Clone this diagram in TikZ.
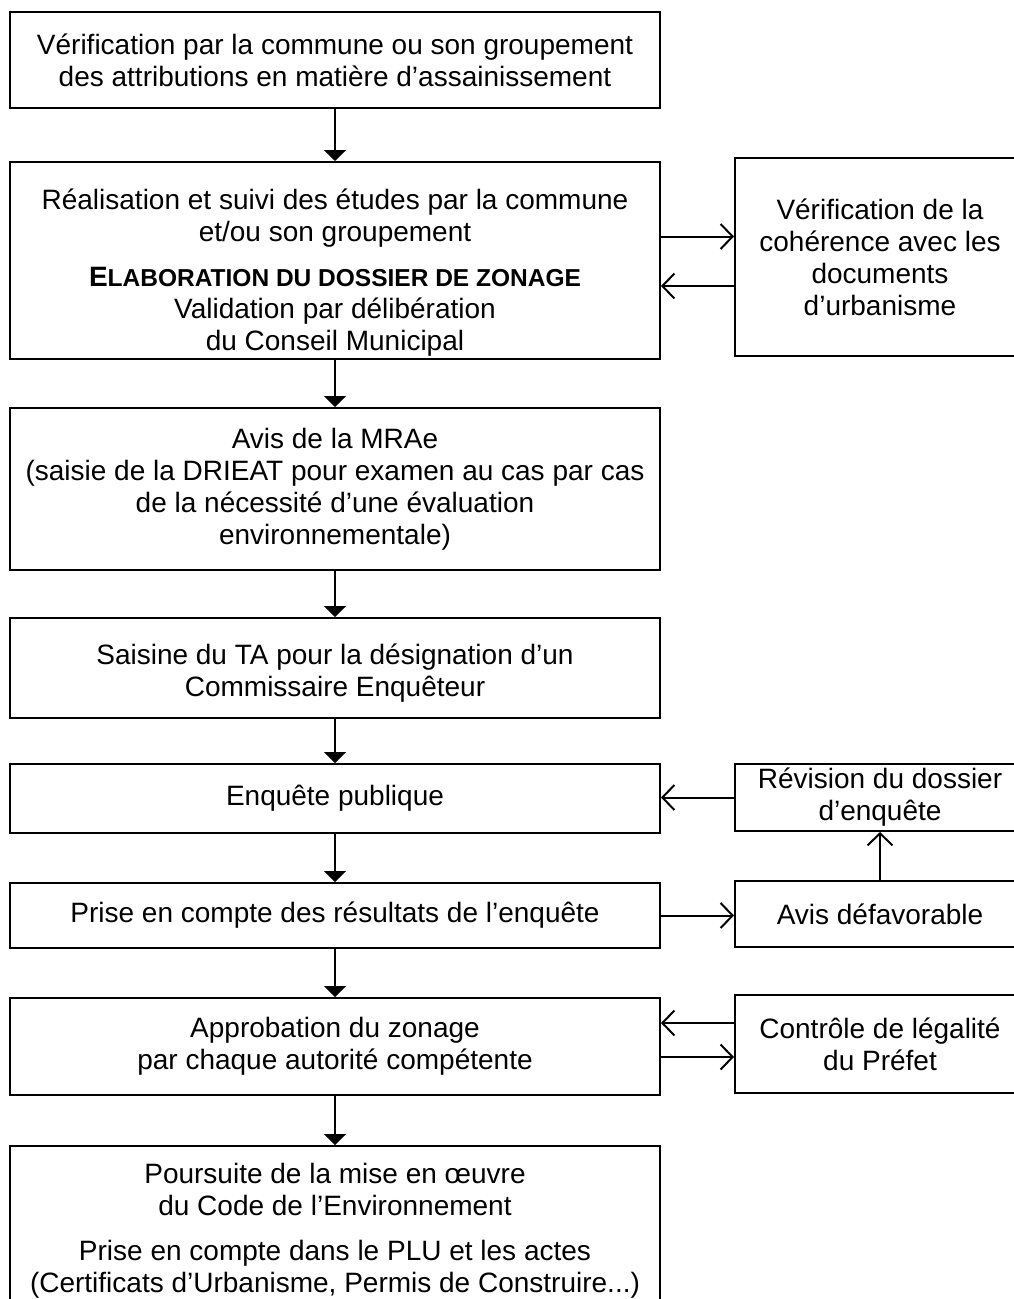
\documentclass[tikz,border=0pt]{standalone}
\usepackage{fontspec}
\setmainfont{Liberation Sans}
\usetikzlibrary{arrows.meta}

\newcommand{\boxfont}{\fontsize{28}{32}\selectfont}

\begin{document}
\begin{tikzpicture}[
    x=1pt, y=-1pt,
    box/.style={draw,line width=2pt,minimum width=650pt,align=center,
                inner sep=0pt,font=\boxfont},
    sidebox/.style={box,minimum width=290pt},
    down/.style={-{Triangle[length=11pt,width=22pt]},line width=2pt},
    side/.style={-{Straight Barb[length=12pt,width=25pt]},line width=2pt},
  ]

  % frame of the page
  \useasboundingbox (0,0) rectangle (1014,1299);
  \fill[white] (0,0) rectangle (1014,1299);
  \clip (0,0) rectangle (1014,1299);

  % main column
  \node[box,minimum height=96pt] (verif) at (335,60)
    {Vérification par la commune ou son groupement\\
     des attributions en matière d’assainissement};
  \node[box,minimum height=197pt] (etudes) at (335,260.5)
    {\rule{0pt}{45pt}Réalisation et suivi des études par la commune\\
     et/ou son groupement\\[13pt]
     {\bfseries E{\fontsize{24.5}{32}\selectfont LABORATION DU DOSSIER DE ZONAGE}}\\
     Validation par délibération\\
     du Conseil Municipal};
  \node[box,minimum height=162pt] (mrae) at (335,489)
    {Avis de la MRAe\\
     (saisie de la DRIEAT pour examen au cas par cas\\
     de la nécessité d’une évaluation\\
     environnementale)};
  \node[box,minimum height=100pt] (ta) at (335,668)
    {\rule{0pt}{31pt}Saisine du TA pour la désignation d’un\\
     Commissaire Enquêteur};
  \node[box,minimum height=69pt] (enquete) at (335,798.5) {Enquête publique};
  \node[box,minimum height=65pt] (resultats) at (335,915.5)
    {Prise en compte des résultats de l’enquête};
  \node[box,minimum height=97pt] (approb) at (335,1046.5)
    {Approbation du zonage\\
     par chaque autorité compétente};
  \node[box,anchor=north,inner ysep=17pt] (suite) at (335,1145)
    {Poursuite de la mise en œuvre\\
     du Code de l’Environnement\\[13pt]
     Prise en compte dans le PLU et les actes\\
     (Certificats d’Urbanisme, Permis de Construire...)};

  % right column
  \node[sidebox,minimum height=198pt] (coherence) at (880,257)
    {Vérification de la\\
     cohérence avec les\\
     documents\\
     d’urbanisme};
  \node[sidebox,minimum height=67pt] (revision) at (880,797.5)
    {Révision du dossier\\
     d’enquête};
  \node[sidebox,minimum height=66pt] (defav) at (880,914) {Avis défavorable};
  \node[sidebox,minimum height=98pt] (prefet) at (880,1044)
    {Contrôle de légalité\\
     du Préfet};

  % main flow
  \draw[down] (verif) -- (etudes);
  \draw[down] (etudes) -- (mrae);
  \draw[down] (mrae) -- (ta);
  \draw[down] (ta) -- (enquete);
  \draw[down] (enquete) -- (resultats);
  \draw[down] (resultats) -- (approb);
  \draw[down] (approb) -- (suite);

  % side loops
  \draw[side] ([yshift=24pt]etudes.east) -- ([yshift=24pt]etudes.east -| coherence.west);
  \draw[side] ([yshift=-29pt]coherence.west) -- ([yshift=-29pt]coherence.west -| etudes.east);
  \draw[side] (revision.west) -- (revision.west -| enquete.east);
  \draw[side] (resultats.east) -- (resultats.east -| defav.west);
  \draw[side] (defav) -- (revision);
  \draw[side] ([yshift=21pt]prefet.west) -- ([yshift=21pt]prefet.west -| approb.east);
  \draw[side] ([yshift=-13pt]prefet.west -| approb.east) -- ([yshift=-13pt]prefet.west);

\end{tikzpicture}
\end{document}
